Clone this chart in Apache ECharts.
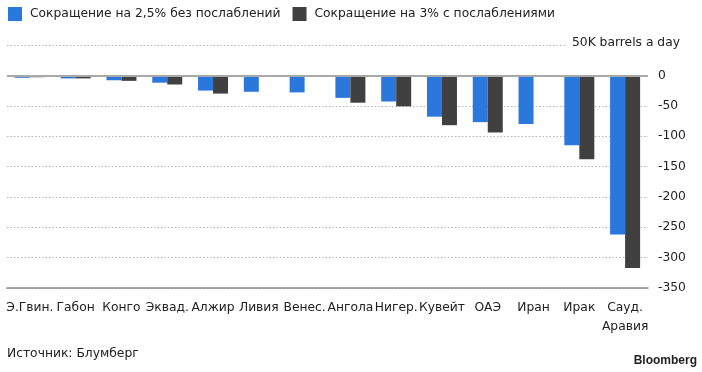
<!DOCTYPE html>
<html><head><meta charset="utf-8">
<script src="https://cdn.jsdelivr.net/npm/echarts@6/dist/echarts.min.js"></script>
<style>html,body{margin:0;padding:0;background:#fff}#c{width:702px;height:372px}</style>
</head><body><div id="c"></div>
<script>
const categories = ['Э.Гвин.', 'Габон', 'Конго', 'Эквад.', 'Алжир', 'Ливия', 'Венес.', 'Ангола', 'Нигер.', 'Кувейт', 'ОАЭ', 'Иран', 'Ирак', 'Сауд.\nАравия'];
const seriesNames = ['Сокращение на 2,5% без послаблений', 'Сокращение на 3% с послаблениями'];
const cut25 = [-4, -5, -8, -12, -25, -27, -28, -37, -43, -68, -77, -80, -115, -262];
const cut3 = [-3, -5, -9, -15, -30, -1, -1, -45, -51, -82, -94, -1, -138, -317];
const yTicks = { min: -350, max: 50, step: 50 };
const unitLabel = '50K barrels a day';
const sourceText = 'Источник: Блумберг';

const FONT = 'DejaVu Sans';
const chart = echarts.init(document.getElementById('c'), null, { renderer: 'canvas' });
chart.setOption({
  animation: false,
  textStyle: { fontFamily: FONT },
  legend: {
    left: 8, top: 7, padding: 0, itemWidth: 14, itemHeight: 14, itemGap: 12,
    icon: 'rect',
    textStyle: { fontSize: 12.3, color: '#222', fontFamily: FONT, padding: [0, 0, 0, 3] },
    data: seriesNames
  },
  grid: { left: 7, right: 54, top: 45, bottom: 84, containLabel: false },
  xAxis: {
    type: 'category', data: categories, position: 'bottom',
    axisLine: { onZero: false, lineStyle: { color: '#8a8a8a', width: 1.5 } },
    axisTick: { alignWithLabel: true, length: 5, lineStyle: { color: '#8a8a8a', width: 1 } },
    axisLabel: { interval: 0, fontSize: 12.3, color: '#222', margin: 10, lineHeight: 19, fontFamily: FONT },
    splitLine: { show: false }
  },
  yAxis: {
    type: 'value', position: 'right', min: yTicks.min, max: yTicks.max, interval: yTicks.step,
    axisLine: { show: false }, axisTick: { show: false },
    axisLabel: { fontSize: 12.3, color: '#222', margin: 10, fontFamily: FONT,
      formatter: v => v === yTicks.max ? '' : String(v) },
    splitLine: { lineStyle: { color: '#b5b5b5', type: [1.5, 2], width: 1 } }
  },
  series: [
    { name: seriesNames[0], type: 'bar', data: cut25, barWidth: 15, barGap: '0%',
      itemStyle: { color: '#2a78dc' },
      markLine: { silent: true, symbol: 'none', label: { show: false },
        lineStyle: { color: '#a8a8a8', type: 'solid', width: 2 }, data: [{ yAxis: 0 }] } },
    { name: seriesNames[1], type: 'bar', data: cut3, barWidth: 15, barGap: '0%',
      itemStyle: { color: '#404040' }, z: 3 }
  ],
  graphic: [
    { type: 'text', left: 566, top: 37, z: 100,
      style: { text: unitLabel, font: '12.3px "' + FONT + '"', fill: '#222', backgroundColor: '#fff', padding: [0, 0, 0, 6] } },
    { type: 'text', left: 7, top: 348,
      style: { text: sourceText, font: '12.3px "' + FONT + '"', fill: '#222' } },
    { type: 'text', right: 5, top: 355,
      style: { text: 'Bloomberg', font: 'bold 12px "Liberation Sans"', fill: '#222' } }
  ]
});
</script></body></html>
